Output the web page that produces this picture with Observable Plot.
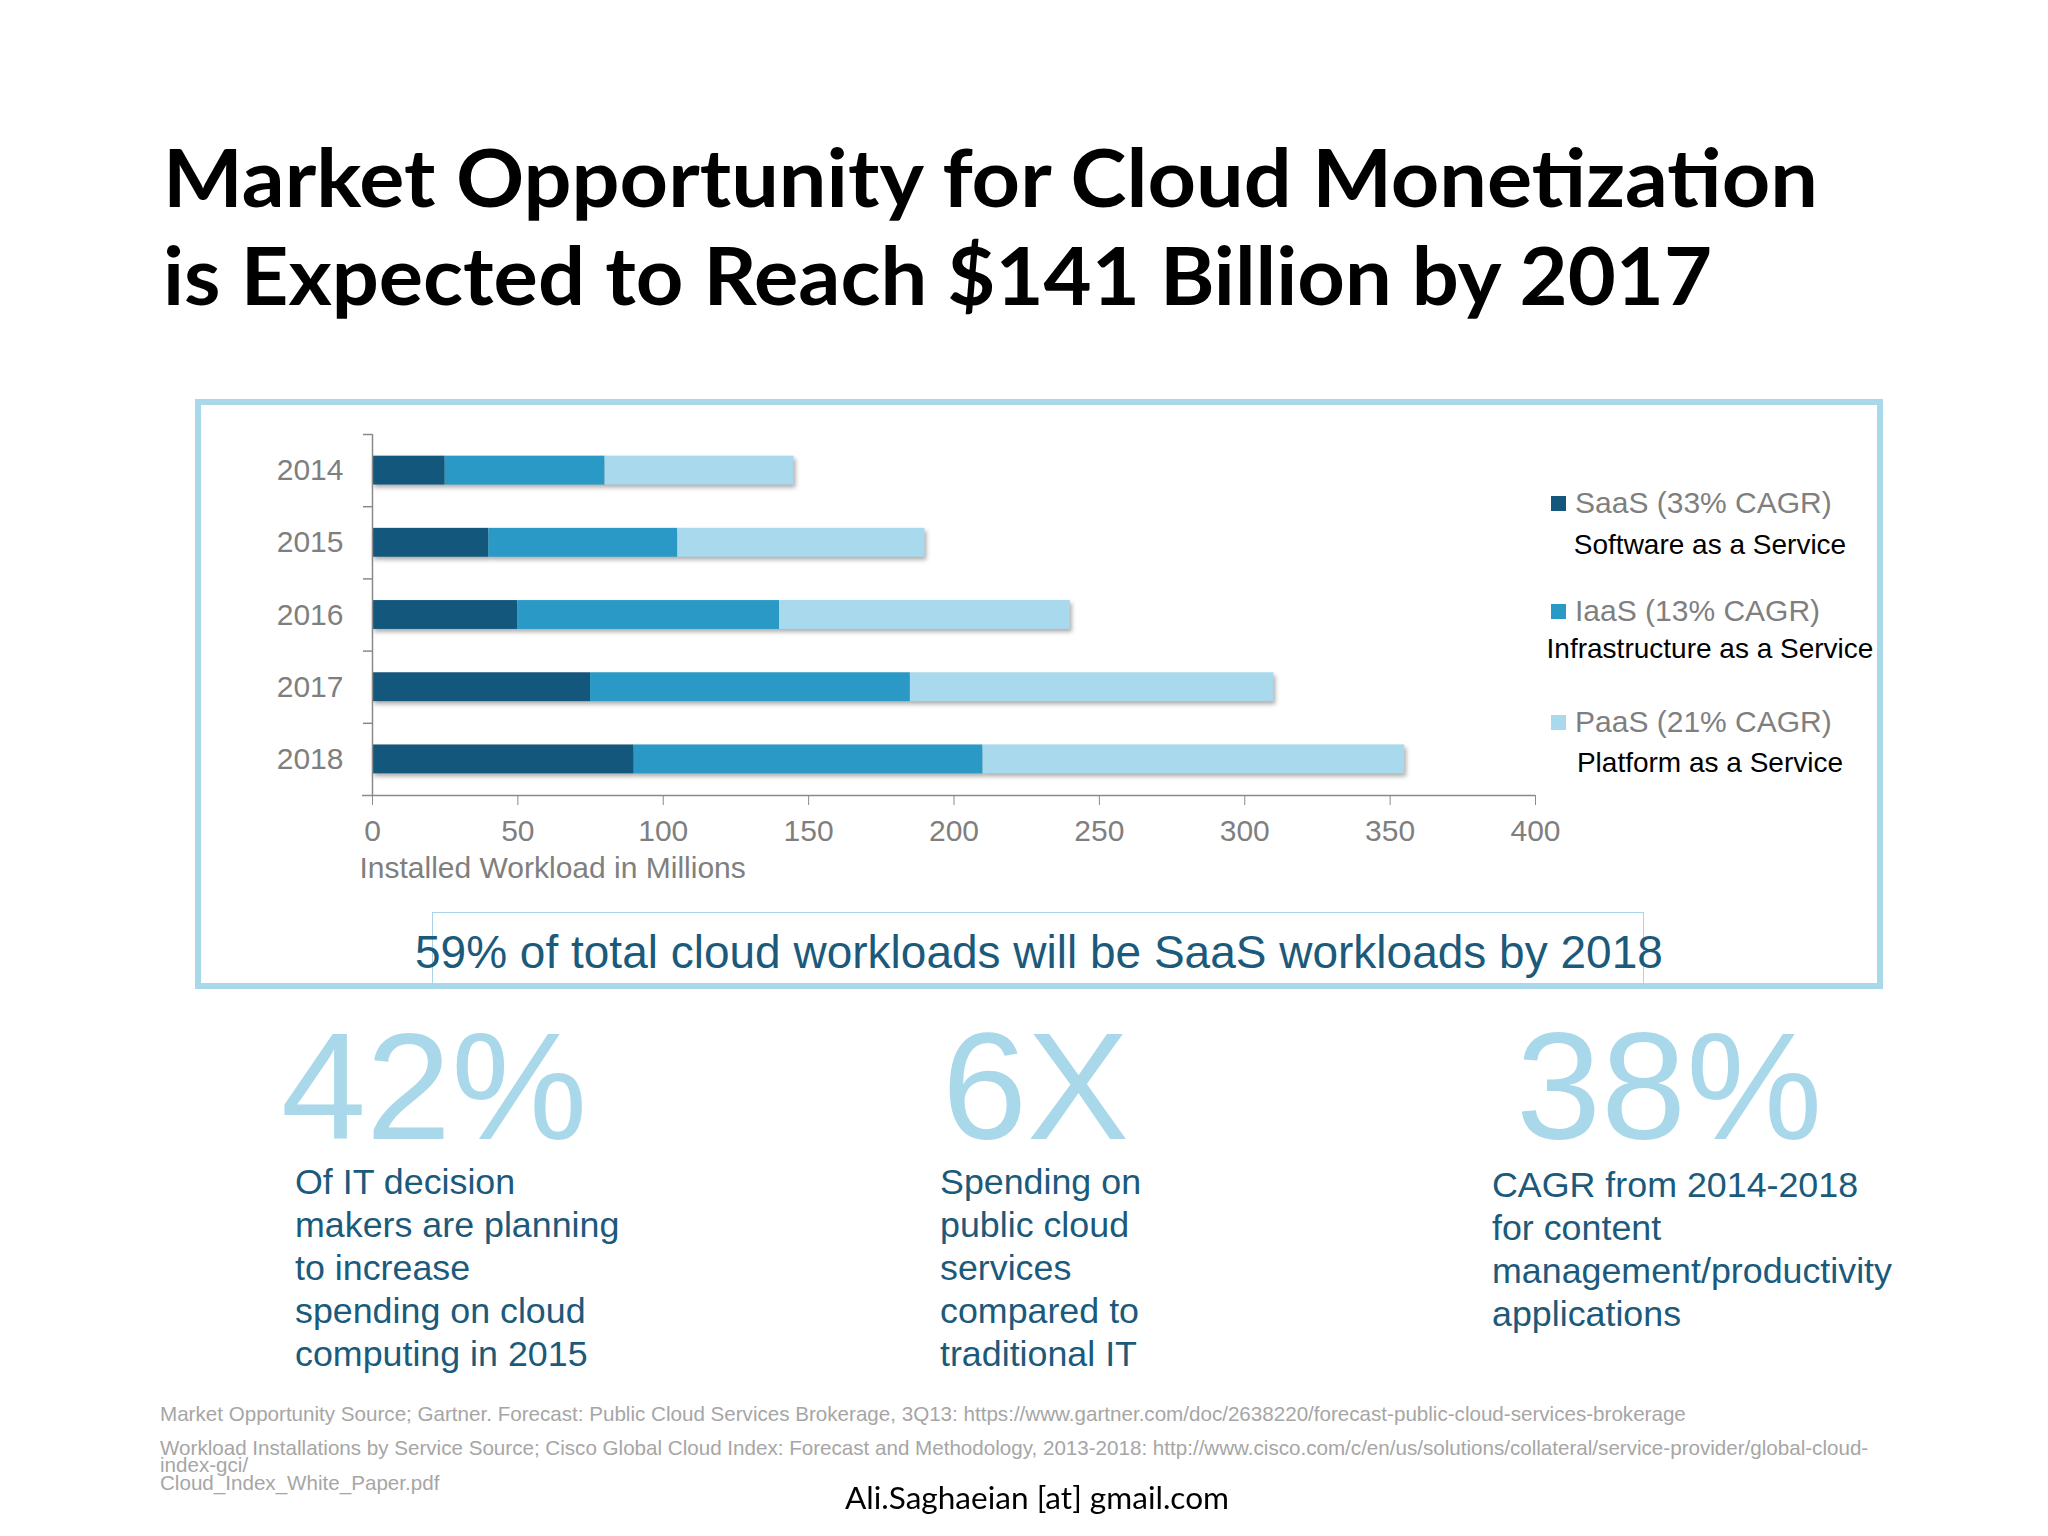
<!DOCTYPE html>
<html>
<head>
<meta charset="utf-8">
<script src="https://cdn.jsdelivr.net/npm/d3@7"></script>
<script src="https://cdn.jsdelivr.net/npm/@observablehq/plot@0.6"></script>
<style>
  body { margin: 0; background: #fff; }
  #page { position: relative; width: 2048px; height: 1536px; overflow: hidden; background: #fff;
          font-family: "Liberation Sans", Arial, sans-serif; }
  .abs { position: absolute; white-space: nowrap; }
</style>
</head>
<body>
<div id="page"></div>
<script>
// ---------- data ----------
const titleLines = ["Market Opportunity for Cloud Monetization", "is Expected to Reach $141 Billion by 2017"];
const years = ["2014", "2015", "2016", "2017", "2018"];
const seriesNames = ["SaaS", "IaaS", "PaaS"];
const saasValues = [25, 40, 50, 75, 90];
const iaasValues = [55, 65, 90, 110, 120];
const paasValues = [65, 85, 100, 125, 145];
const xTicks = [0, 50, 100, 150, 200, 250, 300, 350, 400];
const xLabel = "Installed Workload in Millions";
const legendTitles = ["SaaS (33% CAGR)", "IaaS (13% CAGR)", "PaaS (21% CAGR)"];
const legendSubtitles = ["Software as a Service", "Infrastructure as a Service", "Platform as a Service"];
const calloutText = "59% of total cloud workloads will be SaaS workloads by 2018";
const bigNumbers = ["42%", "6X", "38%"];
const statTexts = [
  ["Of IT decision", "makers are planning", "to increase", "spending on cloud", "computing in 2015"],
  ["Spending on", "public cloud", "services", "compared to", "traditional IT"],
  ["CAGR from 2014-2018", "for content", "management/productivity", "applications"]
];
const footnotes = [
  "Market Opportunity Source; Gartner. Forecast: Public Cloud Services Brokerage, 3Q13: https://www.gartner.com/doc/2638220/forecast-public-cloud-services-brokerage",
  "Workload Installations by Service Source; Cisco Global Cloud Index: Forecast and Methodology, 2013-2018: http://www.cisco.com/c/en/us/solutions/collateral/service-provider/global-cloud-",
  "index-gci/",
  "Cloud_Index_White_Paper.pdf"
];
const authorText = "Ali.Saghaeian [at] gmail.com";

// ---------- styles ----------
const seriesColors = ["#14577d", "#2a99c6", "#a9d9ec"];
const frameColor = "#a9d8eb";
const labelGray = "#7f7f7f";
const axisGray = "#8a8a8a";
const tealText = "#1b5a7b";
const bigColor = "#a8d8ea";

const page = document.getElementById("page");
function add(text, css) {
  const el = document.createElement("div");
  el.className = "abs";
  if (text != null) el.textContent = text;
  Object.assign(el.style, css);
  page.appendChild(el);
  return el;
}

// frame
add(null, {left: "195px", top: "399px", width: "1688px", height: "590px",
  border: `6px solid ${frameColor}`, boxSizing: "border-box"});
// callout box
add(null, {left: "432px", top: "912px", width: "1212px", height: "74px",
  borderTop: "1.5px solid #a9d4e8", borderLeft: "1.5px solid #a9d4e8", borderRight: "1.5px solid #a9d4e8", boxSizing: "border-box"});

// ---------- chart ----------
const W = 2048, H = 500, svgTop = 400;
const plotLeft = 372, plotRight = 1535, plotTop = 434, plotBottom = 795;
const step = (plotBottom - plotTop) / years.length;
const xMax = xTicks[xTicks.length - 1];
const pxPerUnit = (plotRight - plotLeft) / xMax;
const seriesValues = [saasValues, iaasValues, paasValues];
const rows = years.flatMap((yr, i) => seriesNames.map((s, j) => ({year: yr, series: s, value: seriesValues[j][i]})));

const chart = Plot.plot({
  width: W, height: H,
  marginLeft: plotLeft, marginRight: W - plotRight,
  marginTop: plotTop - svgTop, marginBottom: H - (plotBottom - svgTop),
  style: {fontFamily: '"Liberation Sans", Arial, sans-serif', background: "transparent", overflow: "visible"},
  x: {domain: [0, xMax]},
  y: {domain: years, paddingInner: 0.6, paddingOuter: 0.3, round: false},
  color: {domain: seriesNames, range: seriesColors},
  marks: [
    Plot.barX(rows, {x: "value", y: "year", fill: "series"}),
    Plot.ruleX([0], {stroke: axisGray, strokeWidth: 1.5}),
    Plot.ruleY([years[years.length - 1]], {dy: step / 2, x1: -10 / pxPerUnit, x2: xMax, stroke: axisGray, strokeWidth: 1.5}),
    Plot.ruleY(years, {dy: -step / 2, x1: -9 / pxPerUnit, x2: 0, stroke: axisGray, strokeWidth: 1.5}),
    Plot.axisY({tickSize: 0, tickPadding: 29, fontSize: 30, color: labelGray, label: null}),
    Plot.axisX({anchor: "bottom", ticks: xTicks, tickSize: 10, tickPadding: 14, fontSize: 30, color: labelGray, stroke: axisGray, label: null}),
    Plot.text([xLabel], {frameAnchor: "bottom-left", dx: -13, dy: 82, textAnchor: "start", fontSize: 30, fill: labelGray})
  ]
});
chart.style.position = "absolute";
chart.style.left = "0px";
chart.style.top = svgTop + "px";
page.appendChild(chart);
chart.querySelectorAll('g[aria-label="bar"]').forEach(g => {
  g.style.filter = "drop-shadow(2px 3px 2px rgba(0,0,0,0.32))";
});

// ---------- legend ----------
const legendCenters = [503, 611, 722];
const subCenters = [545, 649, 763];
legendTitles.forEach((t, i) => {
  add(null, {left: "1551px", top: (legendCenters[i] - 7) + "px", width: "15px", height: "15px", background: seriesColors[i]});
  add(t, {left: "1575px", top: (legendCenters[i] - 15) + "px", fontSize: "30px", lineHeight: "30px", color: labelGray});
  add(legendSubtitles[i], {left: "1530px", width: "360px", textAlign: "center", top: (subCenters[i] - 14) + "px",
    fontSize: "28px", lineHeight: "28px", color: "#000"});
});

// ---------- callout ----------
add(calloutText, {left: "415px", width: "1212px", textAlign: "center", top: "929px",
  fontSize: "46px", lineHeight: "46px", color: tealText});

// ---------- stats ----------
const bigLefts = [281, 942, 1516];
const textLefts = [295, 940, 1492];
bigNumbers.forEach((b, i) => {
  add(b, {left: bigLefts[i] + "px", top: "1009px", fontSize: "153px", lineHeight: "153px", color: bigColor});
  const el = add(null, {left: textLefts[i] + "px", top: (i === 2 ? 1164 : 1161) + "px",
    fontSize: "35.8px", lineHeight: "43px", color: tealText});
  el.innerHTML = statTexts[i].map(s => s.replace(/&/g, "&amp;").replace(/</g, "&lt;")).join("<br>");
});

// ---------- footnotes ----------
const footTops = [1404, 1438, 1455, 1473];
footnotes.forEach((f, i) => {
  add(f, {left: "160px", top: footTops[i] + "px", fontSize: "20.6px", lineHeight: "19px", color: "#a6a6a6"});
});

// ---------- title & author ----------
const titleEls = titleLines.map((t, i) => add(t, {left: "163px", top: (136 + i * 98) + "px",
  fontFamily: "Lato, 'Open Sans', sans-serif", fontWeight: "700", fontSize: "80px", lineHeight: "80px",
  color: "#000", transformOrigin: "left top"}));
const titleWidths = [1655, 1549];
const author = add(authorText, {left: "845px", top: "1482px", fontFamily: "Lato, 'Open Sans', sans-serif",
  fontSize: "30px", lineHeight: "30px", color: "#000", transformOrigin: "left top"});

function fitAll() {
  titleEls.forEach((el, i) => {
    el.style.transform = "none";
    const w = el.getBoundingClientRect().width;
    el.style.transform = `scaleX(${titleWidths[i] / w})`;
  });
  author.style.transform = "none";
  const aw = author.getBoundingClientRect().width;
  author.style.transform = `scaleX(${384 / aw})`;
}
fitAll();
if (document.fonts && document.fonts.ready) document.fonts.ready.then(fitAll);
</script>
</body>
</html>
